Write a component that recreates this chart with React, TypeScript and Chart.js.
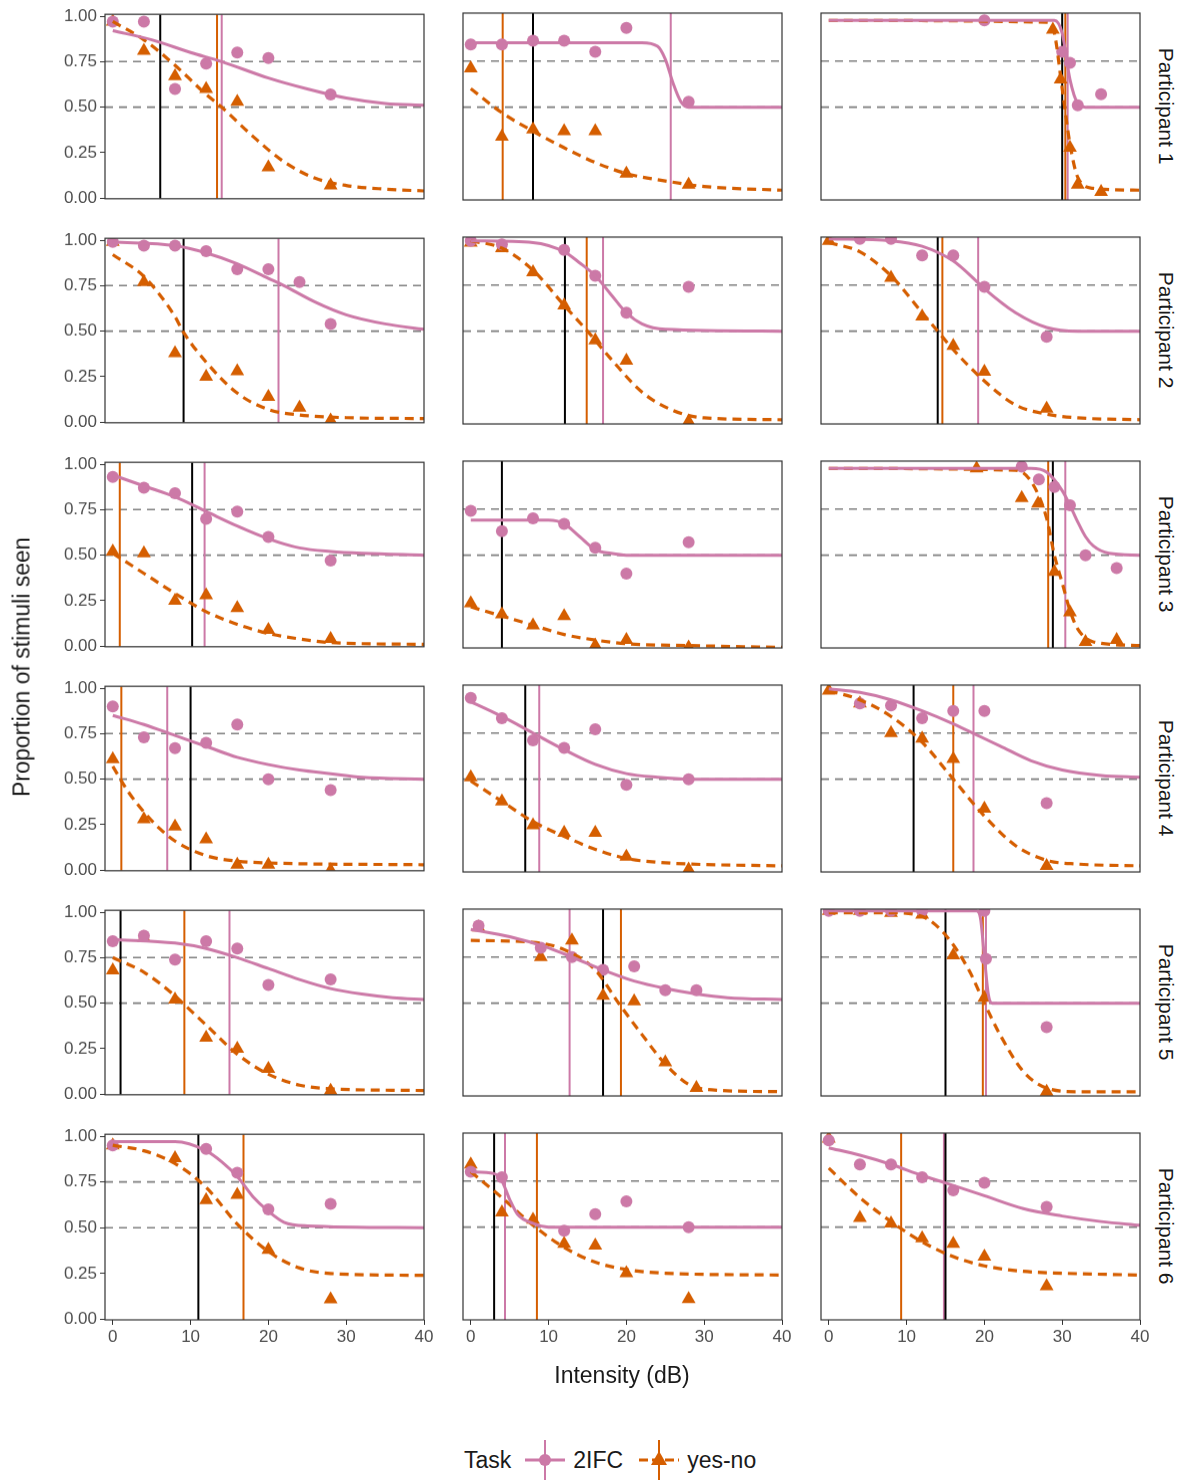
import Chart from "chart.js/auto";
import { useEffect, useRef } from "react";

type Pt = [number, number];

const PINK = "#CC79A7";
const ORANGE = "#D55E00";

const participants = ["Participant 1", "Participant 2", "Participant 3", "Participant 4", "Participant 5", "Participant 6"];
const xTicks = [0, 10, 20, 30, 40];
const yTicks = [0, 0.25, 0.5, 0.75, 1];
const refLines = [0.5, 0.75];

// panels in reading order: row = participant, column = condition
const twoIfcPoints: Pt[][] = [
  [[0, 0.97], [4, 0.97], [8, 0.6], [12, 0.74], [16, 0.8], [20, 0.77], [28, 0.57]],
  [[0, 0.84], [4, 0.84], [8, 0.86], [12, 0.86], [16, 0.8], [20, 0.93], [28, 0.53]],
  [[20, 0.97], [30, 0.8], [31, 0.74], [32, 0.51], [35, 0.57]],
  [[0, 0.99], [4, 0.97], [8, 0.97], [12, 0.94], [16, 0.84], [20, 0.84], [24, 0.77], [28, 0.54]],
  [[0, 0.99], [4, 0.97], [12, 0.94], [16, 0.8], [20, 0.6], [28, 0.74]],
  [[4, 1.0], [8, 1.0], [12, 0.91], [16, 0.91], [20, 0.74], [28, 0.47]],
  [[0, 0.93], [4, 0.87], [8, 0.84], [12, 0.7], [16, 0.74], [20, 0.6], [28, 0.47]],
  [[0, 0.74], [4, 0.63], [8, 0.7], [12, 0.67], [16, 0.54], [20, 0.4], [28, 0.57]],
  [[24.8, 0.98], [27, 0.91], [29, 0.87], [31, 0.77], [33, 0.5], [37, 0.43]],
  [[0, 0.9], [4, 0.73], [8, 0.67], [12, 0.7], [16, 0.8], [20, 0.5], [28, 0.44]],
  [[0, 0.94], [4, 0.83], [8, 0.71], [12, 0.67], [16, 0.77], [20, 0.47], [28, 0.5]],
  [[4, 0.91], [8, 0.9], [12, 0.83], [16, 0.87], [20, 0.87], [28, 0.37]],
  [[0, 0.84], [4, 0.87], [8, 0.74], [12, 0.84], [16, 0.8], [20, 0.6], [28, 0.63]],
  [[1, 0.92], [9, 0.8], [13, 0.75], [17, 0.68], [21, 0.7], [25, 0.57], [29, 0.57]],
  [[0, 1.0], [4, 1.0], [8, 1.0], [12, 1.0], [20, 1.0], [20.2, 0.74], [28, 0.37]],
  [[0, 0.95], [12, 0.93], [16, 0.8], [20, 0.6], [28, 0.63]],
  [[0, 0.8], [4, 0.77], [12, 0.48], [16, 0.57], [20, 0.64], [28, 0.5]],
  [[0, 0.97], [4, 0.84], [8, 0.84], [12, 0.77], [16, 0.7], [20, 0.74], [28, 0.61]],
];

const yesNoPoints: Pt[][] = [
  [[0, 0.97], [4, 0.81], [8, 0.67], [12, 0.6], [16, 0.53], [20, 0.17], [28, 0.07]],
  [[0, 0.71], [4, 0.34], [8, 0.38], [12, 0.37], [16, 0.37], [20, 0.14], [28, 0.08]],
  [[28.8, 0.92], [29.8, 0.65], [31, 0.28], [32, 0.08], [35, 0.04]],
  [[0, 0.99], [4, 0.77], [8, 0.38], [12, 0.25], [16, 0.28], [20, 0.14], [24, 0.08], [28, 0.01]],
  [[0, 0.98], [4, 0.95], [8, 0.82], [12, 0.64], [16, 0.45], [20, 0.34], [28, 0.01]],
  [[0, 0.99], [8, 0.79], [12, 0.58], [16, 0.42], [20, 0.28], [28, 0.08]],
  [[0, 0.52], [4, 0.51], [8, 0.25], [12, 0.28], [16, 0.21], [20, 0.09], [28, 0.04]],
  [[0, 0.24], [4, 0.18], [8, 0.12], [12, 0.17], [16, 0.01], [20, 0.04], [28, 0.0]],
  [[19, 0.97], [24.8, 0.81], [26.9, 0.78], [29, 0.41], [31, 0.19], [33, 0.03], [37, 0.04]],
  [[0, 0.61], [4, 0.28], [8, 0.24], [12, 0.17], [16, 0.03], [20, 0.03], [28, 0.0]],
  [[0, 0.51], [4, 0.38], [8, 0.25], [12, 0.21], [16, 0.21], [20, 0.08], [28, 0.01]],
  [[0, 0.98], [4, 0.91], [8, 0.75], [12, 0.72], [16, 0.61], [20, 0.34], [28, 0.03]],
  [[0, 0.68], [4, 0.86], [8, 0.52], [12, 0.31], [16, 0.25], [20, 0.14], [28, 0.02]],
  [[1, 0.91], [9, 0.75], [13, 0.84], [17, 0.54], [21, 0.51], [25, 0.18], [29, 0.04]],
  [[0, 1.0], [4, 1.0], [8, 0.99], [12, 0.98], [16, 0.76], [20, 0.53], [28, 0.02]],
  [[0, 0.95], [8, 0.88], [12, 0.65], [16, 0.68], [20, 0.38], [28, 0.11]],
  [[0, 0.84], [4, 0.58], [8, 0.54], [12, 0.41], [16, 0.4], [20, 0.25], [28, 0.11]],
  [[0, 0.98], [4, 0.55], [8, 0.52], [12, 0.44], [16, 0.41], [20, 0.34], [28, 0.18]],
];

// fitted curves at a few knots
const twoIfcCurves: Pt[][] = [
  [[0, 0.92], [5, 0.87], [10, 0.8], [14, 0.75], [20, 0.66], [25, 0.6], [30, 0.55], [35, 0.52], [40, 0.51]],
  [[0, 0.85], [22, 0.85], [24, 0.83], [25, 0.76], [26, 0.63], [27, 0.53], [28, 0.5], [40, 0.5]],
  [[0, 0.97], [29, 0.97], [30, 0.9], [31, 0.65], [32, 0.52], [33, 0.5], [40, 0.5]],
  [[0, 0.99], [8, 0.97], [12, 0.93], [16, 0.87], [20, 0.79], [22, 0.75], [26, 0.66], [30, 0.59], [35, 0.54], [40, 0.51]],
  [[0, 0.99], [8, 0.98], [12, 0.93], [14, 0.87], [16, 0.8], [18, 0.7], [20, 0.6], [22, 0.54], [25, 0.51], [40, 0.5]],
  [[0, 1.0], [8, 0.99], [12, 0.96], [16, 0.88], [19, 0.77], [20, 0.73], [24, 0.6], [28, 0.52], [32, 0.5], [40, 0.5]],
  [[0, 0.94], [4, 0.88], [8, 0.82], [12, 0.74], [16, 0.66], [20, 0.59], [24, 0.54], [28, 0.52], [32, 0.51], [40, 0.5]],
  [[0, 0.69], [10, 0.69], [12, 0.67], [14, 0.6], [16, 0.53], [18, 0.51], [20, 0.5], [40, 0.5]],
  [[0, 0.97], [26, 0.97], [28, 0.95], [30, 0.85], [31, 0.77], [32, 0.68], [33, 0.6], [34, 0.55], [36, 0.51], [40, 0.5]],
  [[0, 0.85], [4, 0.8], [8, 0.74], [12, 0.68], [16, 0.62], [20, 0.58], [24, 0.55], [28, 0.53], [32, 0.51], [40, 0.5]],
  [[0, 0.92], [4, 0.84], [8, 0.75], [12, 0.66], [16, 0.58], [20, 0.53], [24, 0.51], [28, 0.5], [40, 0.5]],
  [[0, 0.99], [4, 0.97], [8, 0.93], [12, 0.87], [16, 0.8], [19, 0.74], [22, 0.68], [26, 0.6], [30, 0.55], [35, 0.52], [40, 0.51]],
  [[0, 0.85], [8, 0.83], [12, 0.8], [16, 0.75], [20, 0.69], [24, 0.63], [28, 0.58], [32, 0.55], [36, 0.53], [40, 0.52]],
  [[0, 0.9], [5, 0.86], [10, 0.8], [13, 0.75], [17, 0.68], [21, 0.62], [25, 0.58], [29, 0.55], [33, 0.53], [40, 0.52]],
  [[0, 1.0], [19, 1.0], [19.5, 0.96], [20, 0.75], [20.5, 0.55], [21, 0.5], [40, 0.5]],
  [[0, 0.97], [8, 0.97], [12, 0.92], [14, 0.86], [16, 0.78], [18, 0.67], [20, 0.59], [22, 0.53], [25, 0.51], [40, 0.5]],
  [[0, 0.8], [3, 0.79], [4, 0.75], [5, 0.65], [6, 0.57], [8, 0.52], [10, 0.5], [40, 0.5]],
  [[0, 0.93], [4, 0.89], [8, 0.84], [12, 0.78], [15, 0.74], [20, 0.67], [25, 0.6], [30, 0.56], [35, 0.53], [40, 0.51]],
];

const yesNoCurves: Pt[][] = [
  [[0, 0.97], [4, 0.87], [8, 0.73], [12, 0.57], [14, 0.5], [18, 0.34], [22, 0.2], [26, 0.11], [30, 0.07], [35, 0.05], [40, 0.04]],
  [[0, 0.6], [4, 0.47], [8, 0.37], [12, 0.28], [16, 0.2], [20, 0.14], [25, 0.1], [30, 0.07], [40, 0.05]],
  [[0, 0.97], [28, 0.96], [29, 0.9], [30, 0.6], [31, 0.3], [32, 0.12], [34, 0.06], [40, 0.05]],
  [[0, 0.92], [4, 0.8], [8, 0.58], [9, 0.5], [12, 0.33], [16, 0.16], [20, 0.07], [24, 0.04], [30, 0.025], [40, 0.02]],
  [[0, 0.99], [4, 0.95], [8, 0.83], [12, 0.64], [15, 0.5], [18, 0.35], [22, 0.17], [26, 0.07], [30, 0.03], [40, 0.02]],
  [[0, 0.98], [4, 0.93], [8, 0.8], [12, 0.6], [14, 0.5], [16, 0.4], [20, 0.23], [24, 0.1], [28, 0.05], [32, 0.03], [40, 0.02]],
  [[0, 0.51], [4, 0.4], [8, 0.29], [12, 0.19], [16, 0.12], [20, 0.07], [24, 0.04], [28, 0.02], [40, 0.01]],
  [[0, 0.22], [4, 0.17], [8, 0.12], [12, 0.07], [16, 0.04], [20, 0.02], [28, 0.01], [40, 0.0]],
  [[0, 0.97], [24, 0.96], [26, 0.9], [28, 0.7], [29, 0.5], [30, 0.35], [31, 0.2], [32, 0.1], [34, 0.03], [40, 0.01]],
  [[0, 0.57], [2, 0.43], [4, 0.32], [6, 0.23], [8, 0.16], [12, 0.08], [16, 0.05], [20, 0.04], [40, 0.03]],
  [[0, 0.49], [4, 0.38], [8, 0.27], [12, 0.19], [16, 0.12], [20, 0.07], [24, 0.05], [28, 0.04], [40, 0.03]],
  [[0, 0.98], [4, 0.93], [8, 0.84], [12, 0.7], [16, 0.5], [20, 0.3], [24, 0.14], [28, 0.06], [32, 0.04], [40, 0.03]],
  [[0, 0.75], [4, 0.67], [8, 0.54], [9, 0.5], [12, 0.38], [16, 0.22], [20, 0.11], [24, 0.05], [28, 0.03], [40, 0.02]],
  [[0, 0.84], [8, 0.83], [12, 0.79], [16, 0.68], [19, 0.5], [22, 0.33], [25, 0.17], [28, 0.06], [31, 0.03], [40, 0.02]],
  [[0, 0.99], [8, 0.99], [12, 0.97], [15, 0.87], [18, 0.68], [20, 0.5], [22, 0.33], [25, 0.13], [28, 0.04], [32, 0.02], [40, 0.02]],
  [[0, 0.95], [4, 0.92], [8, 0.85], [12, 0.72], [16, 0.52], [20, 0.37], [24, 0.28], [28, 0.25], [40, 0.24]],
  [[0, 0.8], [4, 0.66], [8, 0.51], [12, 0.39], [16, 0.31], [20, 0.27], [25, 0.25], [40, 0.24]],
  [[0, 0.82], [4, 0.66], [8, 0.53], [12, 0.42], [16, 0.34], [20, 0.29], [25, 0.26], [30, 0.25], [40, 0.24]],
];

// thresholds (vertical lines); null = not shown
const blackLines: (number | null)[] = [6.1, 8, 30, 9.1, 12.1, 14, 10.2, 4, 28.8, 10, 7, 10.9, 1, 17, 15, 11, 3, 15];
const orangeLines: (number | null)[] = [13.4, 4.1, 30.4, null, 14.9, 14.6, 0.9, null, 28.2, 1.1, null, 16, 9.2, 19.3, 19.8, 16.8, 8.5, 9.3];
const pinkLines: (number | null)[] = [14, 25.7, 30.7, 21.3, 17, 19.2, 11.8, null, 30.4, 7, 8.8, 18.6, 15, 12.7, 20.2, null, 4.4, 14.8];

const FONT = "'Liberation Sans', Arial, sans-serif";
const colLeft = [105.2, 463.2, 821.2];
const rowTop = [13.2, 237.2, 461.2, 685.2, 909.2, 1133.2];
const panelW = 319;
const panelH = 186.4;
const pad = 12;
const yAxisW = 60;
const xAxisH = 30;

const panelDecor = {
  id: "panelDecor",
  beforeDatasetsDraw(chart: any) {
    const { ctx, chartArea: a, scales } = chart;
    const i = chart.options.plugins.panelDecor.index as number;
    ctx.save();
    ctx.beginPath();
    ctx.rect(a.left, a.top, a.right - a.left, a.bottom - a.top);
    ctx.clip();
    ctx.strokeStyle = "#7f7f7f";
    ctx.lineWidth = 1.6;
    ctx.setLineDash([8, 6]);
    for (const v of refLines) {
      const y = scales.y.getPixelForValue(v);
      ctx.beginPath();
      ctx.moveTo(a.left, y);
      ctx.lineTo(a.right, y);
      ctx.stroke();
    }
    ctx.setLineDash([]);
    const vl: [number | null, string][] = [
      [pinkLines[i], PINK],
      [orangeLines[i], ORANGE],
      [blackLines[i], "#000000"],
    ];
    for (const [v, col] of vl) {
      if (v === null) continue;
      const x = scales.x.getPixelForValue(v);
      ctx.strokeStyle = col;
      ctx.lineWidth = 2;
      ctx.beginPath();
      ctx.moveTo(x, a.top);
      ctx.lineTo(x, a.bottom);
      ctx.stroke();
    }
    ctx.restore();
  },
  afterDraw(chart: any) {
    const { ctx, chartArea: a } = chart;
    ctx.save();
    ctx.strokeStyle = "#333333";
    ctx.lineWidth = 1.2;
    ctx.strokeRect(a.left, a.top, a.right - a.left, a.bottom - a.top);
    ctx.restore();
  },
};

function Panel({ index }: { index: number }) {
  const ref = useRef<HTMLCanvasElement | null>(null);
  const r = Math.floor(index / 3);
  const c = index % 3;
  const left = c === 0;
  const bottom = r === 5;
  const w = panelW + 2 * pad + (left ? yAxisW : 0);
  const h = panelH + 2 * pad + (bottom ? xAxisH : 0);

  useEffect(() => {
    if (!ref.current) return;
    const toXY = (pts: Pt[]) => pts.map(([x, y]) => ({ x, y }));
    const chart = new Chart(ref.current, {
      type: "scatter",
      data: {
        datasets: [
          {
            data: toXY(twoIfcCurves[index]),
            showLine: true,
            borderColor: PINK,
            borderWidth: 3,
            pointRadius: 0,
            cubicInterpolationMode: "monotone",
            clip: 0,
          } as any,
          {
            data: toXY(yesNoCurves[index]),
            showLine: true,
            borderColor: ORANGE,
            borderWidth: 3.2,
            borderDash: [9, 6],
            pointRadius: 0,
            cubicInterpolationMode: "monotone",
            clip: 0,
          } as any,
          {
            data: toXY(twoIfcPoints[index]),
            pointStyle: "circle",
            pointRadius: 6,
            backgroundColor: PINK,
            borderColor: PINK,
            borderWidth: 0,
            clip: 0,
          } as any,
          {
            data: toXY(yesNoPoints[index]),
            pointStyle: "triangle",
            pointRadius: 8,
            backgroundColor: ORANGE,
            borderColor: ORANGE,
            borderWidth: 0,
            clip: 0,
          } as any,
        ],
      },
      options: {
        animation: false,
        responsive: false,
        devicePixelRatio: 1,
        layout: { padding: pad },
        plugins: {
          legend: { display: false },
          tooltip: { enabled: false },
          panelDecor: { index },
        } as any,
        scales: {
          x: {
            type: "linear",
            display: bottom,
            min: -1,
            max: 40,
            afterBuildTicks: (s: any) => {
              s.ticks = xTicks.map((value) => ({ value }));
            },
            afterFit: (s: any) => {
              s.height = bottom ? xAxisH : 0;
            },
            grid: { drawOnChartArea: false, drawTicks: true, tickLength: 5, color: "#333333" },
            border: { display: false },
            ticks: { color: "#4d4d4d", font: { family: FONT, size: 17 }, padding: 2, maxRotation: 0 },
          },
          y: {
            type: "linear",
            display: left,
            min: -0.003,
            max: 1.01,
            afterBuildTicks: (s: any) => {
              s.ticks = yTicks.map((value) => ({ value }));
            },
            afterFit: (s: any) => {
              s.width = left ? yAxisW : 0;
            },
            grid: { drawOnChartArea: false, drawTicks: true, tickLength: 5, color: "#333333" },
            border: { display: false },
            ticks: {
              color: "#4d4d4d",
              font: { family: FONT, size: 17 },
              padding: 3,
              callback: (v: any) => Number(v).toFixed(2),
            },
          },
        },
      },
      plugins: [panelDecor],
    });
    return () => chart.destroy();
  }, [index]);

  return (
    <canvas
      ref={ref}
      width={w}
      height={h}
      style={{
        position: "absolute",
        left: colLeft[c] - pad - (left ? yAxisW : 0),
        top: rowTop[r] - pad,
        width: w,
        height: h,
      }}
    />
  );
}

export default function App() {
  const text = { position: "absolute" as const, fontFamily: FONT, color: "#1a1a1a", whiteSpace: "nowrap" as const };
  return (
    <div style={{ position: "absolute", left: 0, top: 0, width: 1183, height: 1483, background: "#fff" }}>
      {Array.from({ length: 18 }, (_, i) => (
        <Panel key={i} index={i} />
      ))}
      {participants.map((p, r) => (
        <div
          key={p}
          style={{
            ...text,
            fontSize: 21,
            left: 1166,
            top: rowTop[r] + panelH / 2,
            transform: "translate(-50%, -50%) rotate(90deg)",
          }}
        >
          {p}
        </div>
      ))}
      <div style={{ ...text, fontSize: 23, left: 22, top: 667, transform: "translate(-50%, -50%) rotate(-90deg)" }}>
        Proportion of stimuli seen
      </div>
      <div style={{ ...text, fontSize: 23, left: 622, top: 1375, transform: "translate(-50%, -50%)" }}>
        Intensity (dB)
      </div>
      <div style={{ ...text, fontSize: 23, left: 464, top: 1460, transform: "translateY(-50%)", display: "flex", alignItems: "center" }}>
        <span style={{ marginRight: 12 }}>Task</span>
        <svg width="44" height="44">
          <line x1="2" y1="22" x2="42" y2="22" stroke={PINK} strokeWidth="3" />
          <line x1="22" y1="2" x2="22" y2="42" stroke={PINK} strokeWidth="2" />
          <circle cx="22" cy="22" r="6" fill={PINK} />
        </svg>
        <span style={{ marginLeft: 6, marginRight: 14 }}>2IFC</span>
        <svg width="44" height="44">
          <line x1="2" y1="22" x2="42" y2="22" stroke={ORANGE} strokeWidth="3" strokeDasharray="9 4" />
          <line x1="22" y1="2" x2="22" y2="42" stroke={ORANGE} strokeWidth="2" />
          <polygon points="22,13 30,27 14,27" fill={ORANGE} />
        </svg>
        <span style={{ marginLeft: 6 }}>yes-no</span>
      </div>
    </div>
  );
}
